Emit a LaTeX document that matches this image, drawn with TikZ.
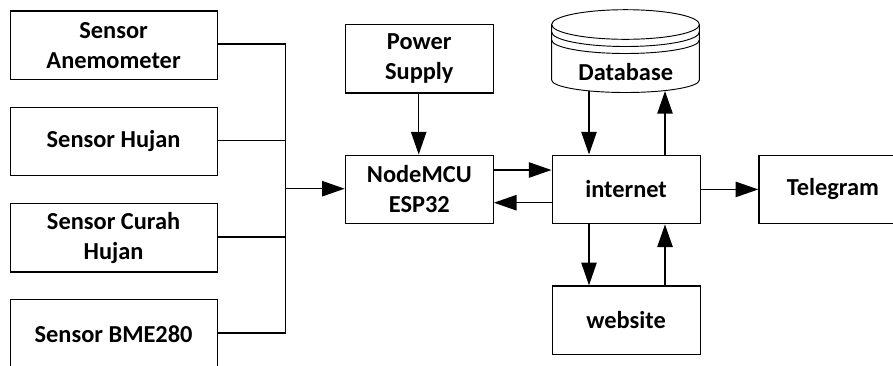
\documentclass[tikz,border=0pt]{standalone}
\usepackage{fontspec}
\setmainfont{Carlito}
\usetikzlibrary{arrows.meta,calc}
\tikzset{
  px/.style={x=0.75pt,y=-0.75pt},
  lbl/.style={font=\fontsize{18.3pt}{22.6pt}\selectfont\bfseries},
  blk/.style={lbl,draw=black,line width=0.9pt,rectangle,inner sep=0pt,align=center,anchor=north west,minimum width=111pt,minimum height=51.5pt},
  conn/.style={draw=black,line width=1.1pt},
  arr/.style={conn,-{Triangle[length=17pt,width=11.5pt]}},
}
\begin{document}
\begin{tikzpicture}[px]
\useasboundingbox (0,0) rectangle (893,365);
\clip (0,0) rectangle (893,365);
\fill[white] (0,0) rectangle (893,365);
\node[blk,minimum width=155.25pt] (anemo) at (9.5,10.3) {Sensor\\Anemometer};
\node[blk,minimum width=155.25pt] (hujan) at (9.5,106.5) {Sensor Hujan};
\node[blk,minimum width=155.25pt] (curah) at (9.5,202.7) {Sensor Curah\\Hujan};
\node[blk,minimum width=155.25pt] (bme) at (9.5,299) {Sensor BME280};
\node[blk] (power) at (344.7,23.7) {Power\\Supply};
\node[blk] (mcu) at (344.7,154.5) {NodeMCU\\ESP32};
\node[blk] (net) at (551.5,154.5) {internet};
\node[blk] (tele) at (758.3,154.5) {Telegram};
\node[blk] (web) at (551.5,285.3) {website};
% database cylinder
\draw[line width=0.7pt,fill=white] (551.6,25) -- (551.6,80) arc[start angle=180,end angle=0,x radius=73.9,y radius=12.5] -- (699.4,25);
\draw[line width=0.7pt] (551.6,32) arc[start angle=180,end angle=0,x radius=73.9,y radius=14.5];
\draw[line width=0.7pt] (551.6,40) arc[start angle=180,end angle=0,x radius=73.9,y radius=13.5];
\draw[line width=0.7pt] (625.5,24.5) ellipse[x radius=73.9,y radius=14.8];
\node[lbl,inner sep=0pt] (db) at (625.7,72.5) {Database};
\coordinate (dbin) at (589,91);
\coordinate (dbout) at (665,91);
% bus
\coordinate (bustop) at (285.5,44);
\coordinate (busbot) at (285.5,333);
\draw[conn] (anemo.east |- bustop) -- (bustop) -- (busbot) -- (bme.east |- busbot);
\draw[conn] (hujan.east |- 0,140.5) -- (285.5,140.5);
\draw[conn] (curah.east |- 0,237) -- (285.5,237);
\draw[arr] (285.5,188.7) -- (mcu.west |- 0,188.7);
\draw[arr] (power.south -| 418.7,0) -- (mcu.north -| 418.7,0);
\draw[arr] (mcu.east |- 0,170) -- (net.west |- 0,170);
\draw[arr] (net.west |- 0,202.7) -- (mcu.east |- 0,202.7);
\draw[arr] (dbin) -- (net.north -| dbin);
\draw[arr] (net.north -| dbout) -- (dbout);
\draw[arr] (net.east) -- (tele.west);
\draw[arr] (net.south -| 589,0) -- (web.north -| 589,0);
\draw[arr] (web.north -| 665,0) -- (net.south -| 665,0);
\end{tikzpicture}
\end{document}
